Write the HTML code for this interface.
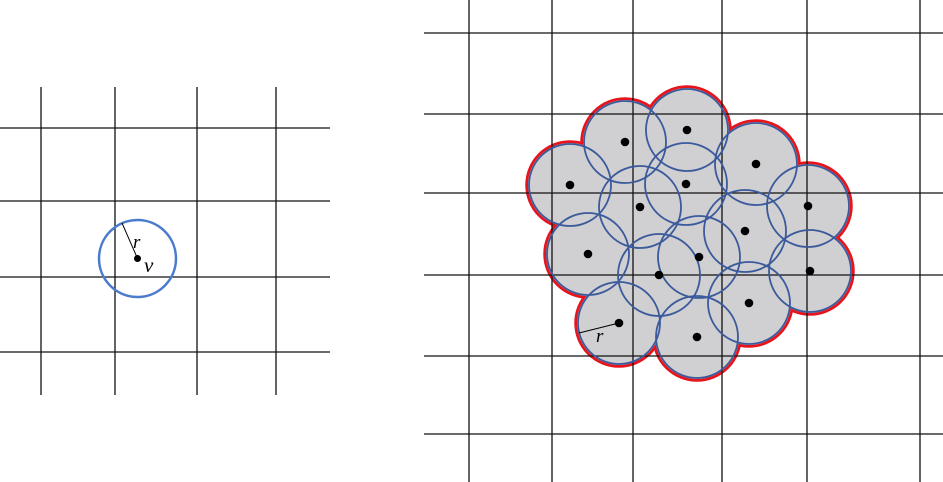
<!DOCTYPE html>
<html><head><meta charset="utf-8"><style>html,body{margin:0;padding:0;background:#fff}svg{display:block}</style></head>
<body>
<svg width="943" height="482" viewBox="0 0 943 482">
<script>
const leftV=[41,115,197,276], leftH=[128,201,277,352];
const rightV=[469,552,633,722,807,920], rightH=[33,114,193,275,356,434];
const ptsX=[625,687,570,686,756,640,808,745,588,699,659,810,749,619,697];
const ptsY=[142,130,185,184,164,207,206,231,254,257,275,271,303,323,337];
</script>
<g id="left"></g>
<g id="right"></g>
<script>
const NS='http://www.w3.org/2000/svg';
function mk(p,t,a){const e=document.createElementNS(NS,t);for(const k in a)e.setAttribute(k,a[k]);p.appendChild(e);return e;}
const L=document.getElementById('left'),R=document.getElementById('right');
leftV.forEach(x=>{const e=mk(L,'line',{x1:x,y1:87,x2:x,y2:395,stroke:'#111','stroke-width':1.3});

});
leftH.forEach(y=>{const e=mk(L,'line',{x1:0,y1:y,x2:330,y2:y,stroke:'#111','stroke-width':1.3});

});
let c=mk(L,'circle',{cx:137.5,cy:258.5,r:38.5,fill:'none',stroke:'#4a7bcc','stroke-width':2.5});


mk(L,'line',{x1:137.5,y1:258.5,x2:122,y2:223,stroke:'#000','stroke-width':1});
c=mk(L,'circle',{cx:137.5,cy:258.5,r:3.5,fill:'#000'});


let t=mk(L,'text',{x:133,y:248,'font-family':'Liberation Serif, serif','font-style':'italic','font-size':19});t.textContent='r';


t=mk(L,'text',{x:144,y:272,'font-family':'Liberation Serif, serif','font-style':'italic','font-size':21});t.textContent='v';


const RR=41;
ptsX.forEach((x,i)=>mk(R,'circle',{cx:x,cy:ptsY[i],r:RR+1.5,fill:'#d0cfd1',stroke:'#e8141c','stroke-width':4.5}));
ptsX.forEach((x,i)=>mk(R,'circle',{cx:x,cy:ptsY[i],r:RR+1,fill:'#d0cfd1'}));
rightV.forEach(x=>{const e=mk(R,'line',{x1:x,y1:0,x2:x,y2:482,stroke:'#111','stroke-width':1.3});

});
rightH.forEach(y=>{const e=mk(R,'line',{x1:424,y1:y,x2:943,y2:y,stroke:'#111','stroke-width':1.3});

});
ptsX.forEach((x,i)=>{const e=mk(R,'circle',{cx:x,cy:ptsY[i],r:RR,fill:'none',stroke:'#3a5a9c','stroke-width':1.8});

});
ptsX.forEach((x,i)=>{const e=mk(R,'circle',{cx:x,cy:ptsY[i],r:4.3,fill:'#000'});

});
mk(R,'line',{x1:619,y1:323,x2:579,y2:333,stroke:'#000','stroke-width':1});
t=mk(R,'text',{x:596,y:342,'font-family':'Liberation Serif, serif','font-style':'italic','font-size':19});t.textContent='r';


</script>
</svg>
</body></html>
